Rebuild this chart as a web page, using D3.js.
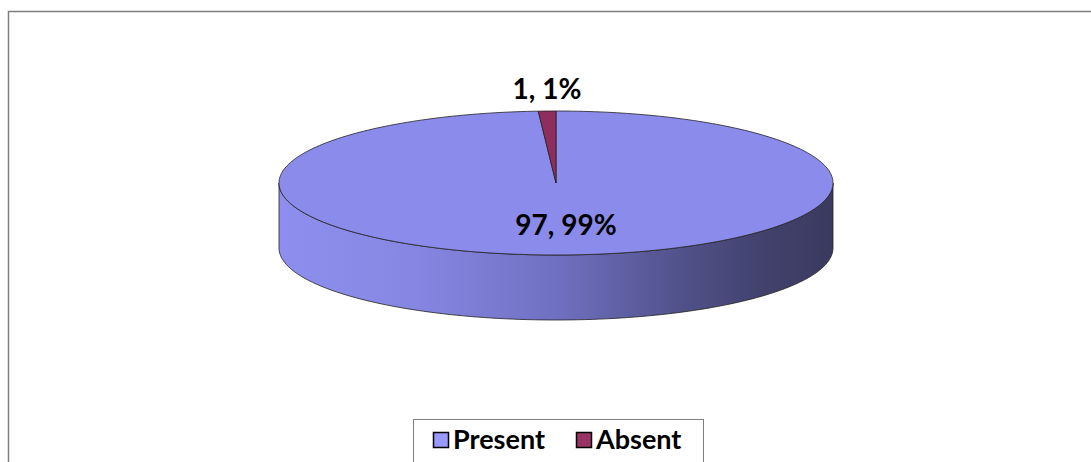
<!DOCTYPE html>
<html>
<head>
<meta charset="utf-8">
<script src="https://cdn.jsdelivr.net/npm/d3@7"></script>
<style>
  html, body { margin: 0; padding: 0; background: #fff; }
  svg { display: block; }
  text { font-family: Lato, "Open Sans", sans-serif; font-weight: bold; fill: #000; }
</style>
</head>
<body>
<svg id="chart" width="1091" height="462"></svg>
<script>
const categories = ["Present", "Absent"];
const values = [97, 1];
const percents = ["99%", "1%"];
const colors = ["#8B8BEB", "#8E2E5E"];
const legendColors = ["#9999FF", "#993366"];

const svg = d3.select("#chart");
const width = +svg.attr("width");
const height = +svg.attr("height");

// outer chart border (runs off the right and bottom edge)
svg.append("rect")
  .attr("x", 8.5).attr("y", 11.5)
  .attr("width", width + 20).attr("height", height + 20)
  .attr("fill", "none").attr("stroke", "#7f7f7f").attr("stroke-width", 1.5);

// ellipse geometry of the 3d pie
const cx = 556, cy = 183, rx = 277, ry = 72, depth = 65;
const px = a => cx + rx * Math.sin(a);
const py = a => cy - ry * Math.cos(a);

const pie = d3.pie().sort(null).value(d => d.value);
const arcs = pie(categories.map((c, i) => ({ name: c, value: values[i], i })));

const defs = svg.append("defs");
const grad = defs.append("linearGradient").attr("id", "side")
  .attr("gradientUnits", "userSpaceOnUse")
  .attr("x1", cx - rx).attr("x2", cx + rx).attr("y1", 0).attr("y2", 0);
[[0, "#8E8EEF"], [0.25, "#8686E2"], [0.5, "#7070C2"], [0.72, "#52528C"], [0.88, "#41416C"], [1, "#3A3A60"]]
  .forEach(([o, c]) => grad.append("stop").attr("offset", o).attr("stop-color", c));

const g = svg.append("g");

// front side wall (only the Present slice covers the front half)
const sidePts = [];
for (let k = 0; k <= 120; k++) {
  const a = Math.PI / 2 + Math.PI * k / 120;
  sidePts.push([px(a), py(a)]);
}
let sideD = "M" + sidePts.map(p => p.join(",")).join("L");
sideD += "L" + sidePts.slice().reverse().map(p => [p[0], p[1] + depth].join(",")).join("L") + "Z";
g.append("path")
  .attr("d", sideD)
  .attr("fill", "url(#side)")
  .attr("stroke", "#222").attr("stroke-width", 0.8);

// top face slices
function slicePath(d) {
  const n = Math.max(2, Math.ceil((d.endAngle - d.startAngle) / 0.02));
  const pts = [[cx, cy]];
  for (let k = 0; k <= n; k++) {
    const a = d.startAngle + (d.endAngle - d.startAngle) * k / n;
    pts.push([px(a), py(a)]);
  }
  return "M" + pts.map(p => p.join(",")).join("L") + "Z";
}

g.selectAll("path.slice")
  .data(arcs)
  .join("path")
  .attr("class", "slice")
  .attr("d", slicePath)
  .attr("fill", d => colors[d.data.i])
  .attr("stroke", "#222").attr("stroke-width", 0.8)
  .attr("stroke-linejoin", "round");

// data labels
const labelPos = [[cx + 10, cy + 52], [cx - 9, cy - ry - 12]];
g.selectAll("text.lbl")
  .data(arcs)
  .join("text")
  .attr("class", "lbl")
  .attr("x", d => labelPos[d.data.i][0])
  .attr("y", d => labelPos[d.data.i][1])
  .attr("text-anchor", "middle")
  .attr("font-size", 28)
  .text(d => `${d.data.value}, ${percents[d.data.i]}`);

// legend
const legend = svg.append("g");
legend.append("rect")
  .attr("x", 413.5).attr("y", 419.5).attr("width", 290).attr("height", 60)
  .attr("fill", "#fff").attr("stroke", "#7f7f7f").attr("stroke-width", 1);
const legendX = [433.5, 576.5];
categories.forEach((c, i) => {
  legend.append("rect")
    .attr("x", legendX[i]).attr("y", 432.5).attr("width", 15).attr("height", 15)
    .attr("fill", legendColors[i]).attr("stroke", "#000").attr("stroke-width", 1.5);
  legend.append("text")
    .attr("x", legendX[i] + 19.5).attr("y", 449)
    .attr("font-size", 27)
    .text(c);
});
</script>
</body>
</html>
